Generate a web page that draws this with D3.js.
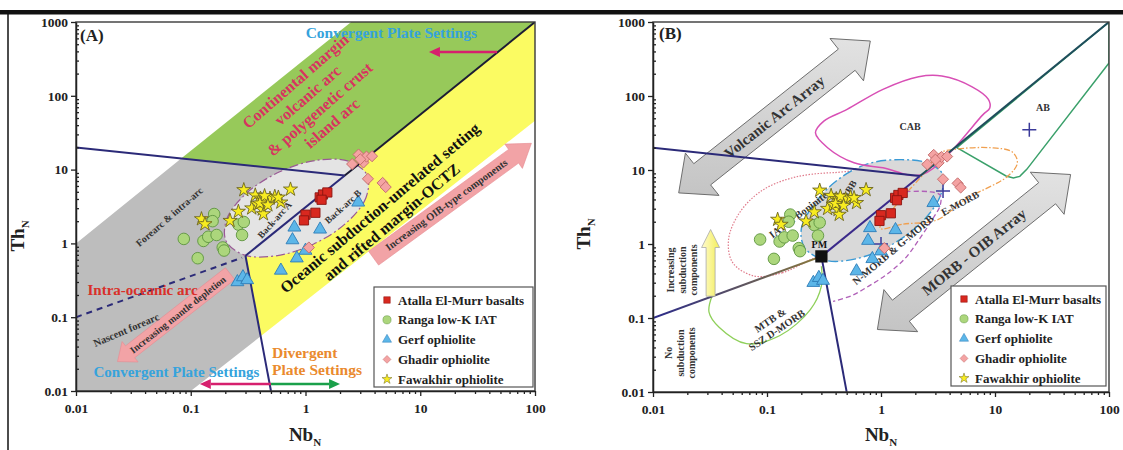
<!DOCTYPE html>
<html><head><meta charset="utf-8">
<script src="https://cdn.jsdelivr.net/npm/d3@7"></script>
<style>
body{margin:0;background:#fff}
svg{display:block}
text{font-family:"Liberation Serif","Times New Roman",serif;font-weight:bold}
</style>
</head><body>
<svg id="chart" width="1123" height="450"></svg>
<script>
// ---------- axis ticks ----------
const xTicks = [0.01, 0.1, 1, 10, 100];
const xTickLabels = ["0.01", "0.1", "1", "10", "100"];
const yTicks = [0.01, 0.1, 1, 10, 100, 1000];
const yTickLabels = ["0.01", "0.1", "1", "10", "100", "1000"];

// ---------- sample groups (Nb_N, Th_N) ----------
const seriesNames = ["Atalla El-Murr basalts", "Ranga low-K IAT", "Gerf ophiolite", "Ghadir ophiolite", "Fawakhir ophiolite"];
const atalla = [[1.33,4.2],[1.42,4.6],[1.55,4.9],[1.38,3.9],[1.22,2.6],[1.0,2.45],[0.97,2.05]];
const ranga = [[0.087,1.15],[0.115,0.63],[0.129,1.08],[0.142,1.23],[0.168,1.3],[0.16,2.5],[0.155,2.0],
               [0.19,0.88],[0.195,0.8],[0.26,1.8],[0.29,1.95],[0.28,1.3]];
const gerf = [[0.80,1.65],[0.77,1.11],[0.84,0.63],[0.61,0.43],[1.34,1.55],[2.88,3.6],[1.0,0.8],
              [0.255,0.3],[0.285,0.35],[0.31,0.32]];
const ghadir = [[2.55,11.9],[2.9,16],[3.2,12.5],[3.4,15],[3.8,15.2],[3.0,13.8],[3.5,7.5],[4.7,6.6],[5.0,5.8],[1.07,0.88]];
const fawakhir = [[0.124,2.14],[0.133,1.83],[0.22,2.03],[0.26,2.7],[0.29,5.3],[0.365,4.5],[0.405,4.07],
                  [0.445,3.8],[0.49,4.07],[0.54,4.3],[0.74,5.4],[0.34,3.0],[0.38,3.4],[0.42,2.9],
                  [0.43,2.5],[0.61,3.6],[0.58,4.2],[0.44,4.4],[0.40,3.5],[0.47,3.3]];

// ---------- discrimination boundaries (Nb_N, Th_N) ----------
const pm = [0.3, 0.68];
const mainArray = [[0.3,0.68],[2.2,8.3],[100,1000]];
const arcDivide = [[0.01,20],[2.2,8.3]];
const convergentDivide = [[0.3,0.68],[0.5,0.01]];
const nascentForearc = [[0.01,0.1],[0.28,0.64]];
const subductionLine = [[0.01,0.1],[0.3,0.68]];
const forearcField = [[0.01,0.01],[0.01,1],[0.083,14.2],[2.2,8.3],[0.3,0.68],[0.406,0.055],[0.1,0.01]];
const continentalField = [[0.083,14.2],[2.5,1000],[100,1000],[2.2,8.3]];
const octzField = [[0.3,0.68],[100,1000],[100,46],[0.406,0.055]];
const backArcField = [[3.44,8.45],[3.37,4.19],[2.27,1.90],[1.17,0.975],[0.552,0.678],[0.29,0.70],
                      [0.203,1.08],[0.207,2.17],[0.307,4.81],[0.596,9.33],[1.26,13.4],[2.40,12.9]];
const babbField = [[3.5,8.6],[3.3,4.4],[2.3,2.0],[1.2,0.95],[0.6,0.63],[0.33,0.6],[0.215,0.88],
                   [0.2,1.6],[0.25,3.2],[0.4,7.0],[0.75,12.0],[1.5,13.8],[2.6,12.3]];
const cabField = [[0.266,31.8],[0.315,45.8],[0.504,65.9],[1.04,123],[2.14,182],[3.42,186],[6.3,133],
                  [8.75,90],[9.0,69],[7.85,56],[2.3,8.7],[1.04,10.7],[0.58,12.5],[0.34,20]];
const abField = [[100,1000],[100,280],[19,10.2],[16.5,8.2],[14.5,7.8],[12.5,8.3],[4.63,20]];
const emorbField = [[0.98,1.63],[1.57,1.86],[3.07,2.1],[5.47,4.0],[13,8.3],[15.7,12.5],[14.2,17.5],
                    [9.1,20],[4.4,19],[3.3,17],[2.33,8.6],[1.47,3.9]];
const nmorbField = [[1.65,5.1],[2.6,5.1],[3.3,4.6],[3.3,3.3],[2.9,2.3],[2.2,1.2],[1.6,0.62],
                    [1.1,0.38],[0.78,0.27],[0.55,0.2],[0.38,0.168]];
const iatField = [[0.244,0.62],[0.137,0.41],[0.077,0.37],[0.05,0.56],[0.046,1.15],[0.057,2.6],
                  [0.089,5.2],[0.17,7.9],[0.377,9.2],[0.84,8.7],[0.9,3.0],[0.5,1.0]];
const mtbField = [[0.033,0.2],[0.031,0.12],[0.038,0.075],[0.066,0.045],[0.13,0.058],[0.24,0.13],
                  [0.3,0.27],[0.3,0.5]];
const referenceCrosses = [[20,35],[3.5,5.2],[1.0,1.0]];

// ---------- canvas ----------
const svg = d3.select("#chart");
const defs = svg.append("defs");
svg.append("rect").attr("x",0).attr("y",10).attr("width",1123).attr("height",4.5).attr("fill","#111");
svg.append("line").attr("x1",8).attr("x2",8).attr("y1",12).attr("y2",450).attr("stroke","#111").attr("stroke-width",1.5);

const minorX = [], minorY = [];
for (let e = -2; e < 2; e++) for (let m = 2; m < 10; m++) minorX.push(+(m * Math.pow(10, e)).toPrecision(3));
for (let e = -2; e < 3; e++) for (let m = 2; m < 10; m++) minorY.push(+(m * Math.pow(10, e)).toPrecision(3));

const markerStyles = [
  {sym:d3.symbolSquare,   size:85, fill:"#d8281f", stroke:"#8a1410", rot:0},
  {sym:d3.symbolCircle,   size:105, fill:"#acd67c", stroke:"#5e9440", rot:0},
  {sym:d3.symbolTriangle, size:72, fill:"#5cb6e8", stroke:"#2e7db8", rot:0},
  {sym:d3.symbolSquare,   size:62, fill:"#f4a3a3", stroke:"#c46d6d", rot:45},
  {sym:d3.symbolStar,     size:62, fill:"#f8ec20", stroke:"#6d6620", rot:0}
];
const groups = [atalla, ranga, gerf, ghadir, fawakhir];
const drawOrder = [1, 2, 3, 0, 4];

function lineOf(x, y, curve) {
  return d3.line().x(d => x(d[0])).y(d => y(d[1])).curve(curve || d3.curveLinear);
}

function txt(g, x, y, s, o) {
  o = o || {};
  const t = g.append("text").attr("x", x).attr("y", y)
    .attr("text-anchor", o.anchor || "middle").attr("dominant-baseline", "central")
    .attr("font-size", o.size || 12).attr("fill", o.color || "#222").text(s);
  if (o.rot) t.attr("transform", `rotate(${o.rot},${x},${y})`);
  return t;
}

function block(g, cx, cy, lines, rot, size, lh, color) {
  const r = rot * Math.PI / 180, dx = -Math.sin(r), dy = Math.cos(r);
  lines.forEach((s, i) => {
    const off = (i - (lines.length - 1) / 2) * lh;
    txt(g, cx + dx * off, cy + dy * off, s, {rot, size, color});
  });
}

// solid block arrow between two screen points; "both" gives a head at each end
function blockArrow(p0, p1, sw, hw, hl, both) {
  const dx = p1[0] - p0[0], dy = p1[1] - p0[1], L = Math.hypot(dx, dy);
  const ux = dx / L, uy = dy / L, nx = -uy, ny = ux;
  const pt = (s, t) => [p0[0] + ux * s + nx * t, p0[1] + uy * s + ny * t];
  const pts = both
    ? [pt(0,0),pt(hl,hw),pt(hl,sw),pt(L-hl,sw),pt(L-hl,hw),pt(L,0),pt(L-hl,-hw),pt(L-hl,-sw),pt(hl,-sw),pt(hl,-hw)]
    : [pt(0,sw),pt(L-hl,sw),pt(L-hl,hw),pt(L,0),pt(L-hl,-hw),pt(L-hl,-sw),pt(0,-sw)];
  return "M" + pts.map(p => p[0].toFixed(1) + "," + p[1].toFixed(1)).join("L") + "Z";
}

function angleOf(p0, p1) {
  let a = Math.atan2(p1[1] - p0[1], p1[0] - p0[0]) * 180 / Math.PI;
  if (a > 90) a -= 180;
  if (a < -90) a += 180;
  return a;
}

// thin arrow with a filled head
function lineArrow(g, p0, p1, color, w) {
  const dx = p1[0] - p0[0], dy = p1[1] - p0[1], L = Math.hypot(dx, dy);
  const ux = dx / L, uy = dy / L, hl = 11, hw = 5;
  g.append("line").attr("x1", p0[0]).attr("y1", p0[1]).attr("x2", p1[0] - ux * hl).attr("y2", p1[1] - uy * hl)
    .attr("stroke", color).attr("stroke-width", w);
  g.append("path").attr("d", `M${p1[0]},${p1[1]}L${p1[0]-ux*hl-uy*hw},${p1[1]-uy*hl+ux*hw}L${p1[0]-ux*hl+uy*hw},${p1[1]-uy*hl-ux*hw}Z`)
    .attr("fill", color);
}

function axes(g, x, y) {
  const [l, r] = x.range(), [b, t] = y.range();
  g.append("rect").attr("x", l).attr("y", t).attr("width", r - l).attr("height", b - t)
    .attr("fill", "none").attr("stroke", "#3a3a3a").attr("stroke-width", 1.4);
  const style = sel => {
    sel.attr("font-family", null).attr("font-size", null);
    sel.selectAll("text").attr("font-size", 13.5).attr("fill", "#222");
    sel.selectAll("path.domain").attr("stroke", "#222").attr("stroke-width", 1.5);
    sel.selectAll("line").attr("stroke", "#222").attr("stroke-width", 1.3);
  };
  g.append("g").attr("transform", `translate(0,${b})`)
    .call(d3.axisBottom(x).tickValues(minorX).tickSize(3).tickFormat(""))
    .call(s => s.select(".domain").remove()).call(style);
  g.append("g").attr("transform", `translate(${l},0)`)
    .call(d3.axisRight(y).tickValues(minorY).tickSize(3).tickFormat(""))
    .call(s => s.select(".domain").remove()).call(style);
  g.append("g").attr("transform", `translate(0,${b})`)
    .call(d3.axisBottom(x).tickValues(xTicks).tickFormat((d, i) => xTickLabels[i]).tickSize(5).tickSizeOuter(0).tickPadding(7))
    .call(style);
  g.append("g").attr("transform", `translate(${l},0)`)
    .call(d3.axisLeft(y).tickValues(yTicks).tickFormat((d, i) => yTickLabels[i]).tickSize(5).tickSizeOuter(0).tickPadding(3))
    .call(style);
}

function axisTitle(g, x, y, main, sub, rot) {
  const t = g.append("text").attr("x", x).attr("y", y).attr("text-anchor", "middle").attr("font-size", 19).attr("fill", "#222");
  if (rot) t.attr("transform", `rotate(${rot},${x},${y})`);
  t.append("tspan").text(main);
  t.append("tspan").attr("font-size", 11).attr("dy", 5).text(sub);
}

function points(g, x, y) {
  drawOrder.forEach(k => {
    const st = markerStyles[k];
    g.selectAll(null).data(groups[k]).enter().append("path")
      .attr("d", d3.symbol().type(st.sym).size(st.size))
      .attr("transform", d => `translate(${x(d[0])},${y(d[1])}) rotate(${st.rot})`)
      .attr("fill", st.fill).attr("stroke", st.stroke).attr("stroke-width", 0.9);
  });
}

function legend(g, x0, y0, w, h) {
  g.append("rect").attr("x", x0).attr("y", y0).attr("width", w).attr("height", h)
    .attr("fill", "#fff").attr("stroke", "#555").attr("stroke-width", 1.2);
  seriesNames.forEach((name, i) => {
    const st = markerStyles[i], cy = y0 + 13 + i * 19.8;
    g.append("path").attr("d", d3.symbol().type(st.sym).size(st.size * 0.5))
      .attr("transform", `translate(${x0 + 13},${cy}) rotate(${st.rot})`)
      .attr("fill", st.fill).attr("stroke", st.stroke).attr("stroke-width", 0.5);
    txt(g, x0 + 24, cy, name, {anchor: "start", size: 13, color: "#222"});
  });
}

// =================== Panel A ===================
const xA = d3.scaleLog().domain([0.01, 100]).range([76, 535]);
const yA = d3.scaleLog().domain([0.01, 1000]).range([391, 22]);
const gA = svg.append("g");
const lA = lineOf(xA, yA);
defs.append("clipPath").attr("id", "clipA").append("rect").attr("x", 76).attr("y", 22).attr("width", 459).attr("height", 369);
const pA = gA.append("g").attr("clip-path", "url(#clipA)");

pA.append("path").attr("d", lA(forearcField) + "Z").attr("fill", "#bdbdbd");
pA.append("path").attr("d", lA(continentalField) + "Z").attr("fill", "#97c95a");
pA.append("path").attr("d", lA(octzField) + "Z").attr("fill", "#fbfb62");
pA.append("path").attr("d", lineOf(xA, yA, d3.curveCatmullRomClosed)(backArcField))
  .attr("fill", "#e4e4e4").attr("stroke", "#9a5a96").attr("stroke-width", 1.2).attr("stroke-dasharray", "9,3,2,3");

pA.append("path").attr("d", lA(arcDivide)).attr("stroke", "#2b2a78").attr("stroke-width", 2).attr("fill", "none");
pA.append("path").attr("d", lA(mainArray.slice(0, 2))).attr("stroke", "#2b2a78").attr("stroke-width", 2).attr("fill", "none");
pA.append("path").attr("d", lA(mainArray.slice(1))).attr("stroke", "#1c1c34").attr("stroke-width", 2).attr("fill", "none");
pA.append("path").attr("d", lA(convergentDivide)).attr("stroke", "#2b2a78").attr("stroke-width", 2).attr("fill", "none");
pA.append("path").attr("d", lA(nascentForearc)).attr("stroke", "#2b2a78").attr("stroke-width", 2).attr("fill", "none").attr("stroke-dasharray", "6,5");

// pink trend arrows
{
  const p0 = [xA(0.22), yA(0.39)], p1 = [xA(0.023), yA(0.025)];
  pA.append("path").attr("d", blockArrow(p0, p1, 7.5, 13, 16, false)).attr("fill", "#f2a3a6").attr("stroke", "#e58a90").attr("stroke-width", 0.6);
  txt(pA, (p0[0] + p1[0]) / 2 + 4, (p0[1] + p1[1]) / 2 - 3, "Increasing mantle depletion", {rot: angleOf(p0, p1), size: 10, color: "#333"});
  const q0 = [xA(3.92), yA(0.63)], q1 = [xA(93), yA(22.7)];
  pA.append("path").attr("d", blockArrow(q0, q1, 8.5, 15, 22, false)).attr("fill", "#f2a3a6").attr("stroke", "#e58a90").attr("stroke-width", 0.6);
  txt(pA, (q0[0] + q1[0]) / 2 - 6, (q0[1] + q1[1]) / 2 + 4, "Increasing OIB-type components", {rot: angleOf(q0, q1), size: 10.5, color: "#333"});
}

// region labels
txt(gA, xA(5.6), yA(710), "Convergent Plate Settings", {size: 15.5, color: "#36a3dc"});
lineArrow(gA, [xA(46.7), yA(392)], [xA(11.9), yA(392)], "#d6206e", 2.5);
block(gA, xA(1.18), yA(82), ["Continental margin", "volcanic arc", "& polygenetic crust", "island arc"], -41, 16, 18.5, "#d7345f");
block(gA, xA(5.0), yA(2.43), ["Oceanic subduction-unrelated setting", "and rifted margin-OCTZ"], -40, 16, 18.5, "#111");
txt(gA, xA(0.038), yA(0.234), "Intra-oceanic arc", {size: 15, color: "#d9302a"});
txt(gA, xA(0.065), yA(2.3), "Forearc & intra-arc", {size: 10, rot: -41, color: "#333"});
txt(gA, xA(0.54), yA(2.07), "Back-arc A", {size: 9.5, rot: -48, color: "#333"});
txt(gA, xA(2.13), yA(3.14), "Back-arc B", {size: 9.5, rot: -42, color: "#333"});
txt(gA, xA(0.0274), yA(0.067), "Nascent forearc", {size: 10.5, rot: -23, color: "#333"});
txt(gA, xA(0.075), yA(0.0183), "Convergent Plate Settings", {size: 15, color: "#36a3dc"});
txt(gA, xA(0.51), yA(0.033), "Divergent", {size: 15.5, anchor: "start", color: "#ea8a2e"});
txt(gA, xA(0.51), yA(0.0193), "Plate Settings", {size: 15.5, anchor: "start", color: "#ea8a2e"});
lineArrow(gA, [xA(0.5), yA(0.0124)], [xA(0.12), yA(0.0124)], "#d6206e", 2.5);
lineArrow(gA, [xA(0.5), yA(0.0124)], [xA(2.0), yA(0.0124)], "#1aa04a", 2.5);

points(pA, xA, yA);
legend(gA, 374, 287, 159, 100);
axes(gA, xA, yA);
txt(gA, 80, 35, "(A)", {size: 17, anchor: "start", color: "#222"});
axisTitle(gA, 24, 236, "Th", "N", -90);
axisTitle(gA, 305, 441, "Nb", "N", 0);

// =================== Panel B ===================
const xB = d3.scaleLog().domain([0.01, 100]).range([653, 1109]);
const yB = d3.scaleLog().domain([0.01, 1000]).range([392, 22]);
const gB = svg.append("g");
const lB = lineOf(xB, yB);
defs.append("clipPath").attr("id", "clipB").append("rect").attr("x", 653).attr("y", 22).attr("width", 456).attr("height", 370);
const pB = gB.append("g").attr("clip-path", "url(#clipB)");

// array arrows
{
  const ag = defs.append("linearGradient").attr("id", "greyGrad").attr("x1", 0).attr("x2", 0).attr("y1", 0).attr("y2", 1);
  ag.append("stop").attr("offset", "0%").attr("stop-color", "#e2e2e2");
  ag.append("stop").attr("offset", "100%").attr("stop-color", "#c4c4c4");
  const a0 = [xB(0.0168), yB(4.9)], a1 = [xB(0.805), yB(553)];
  pB.append("path").attr("d", blockArrow(a0, a1, 13.5, 27, 30, true)).attr("fill", "url(#greyGrad)").attr("stroke", "#6e6e6e").attr("stroke-width", 1);
  txt(pB, (a0[0] + a1[0]) / 2, (a0[1] + a1[1]) / 2, "Volcanic Arc Array", {rot: angleOf(a0, a1), size: 15, color: "#333"});
  const b0 = [xB(0.93), yB(0.07)], b1 = [xB(46), yB(8.7)];
  pB.append("path").attr("d", blockArrow(b0, b1, 13.5, 27, 30, true)).attr("fill", "url(#greyGrad)").attr("stroke", "#6e6e6e").attr("stroke-width", 1);
  txt(pB, (b0[0] + b1[0]) / 2, (b0[1] + b1[1]) / 2, "MORB - OIB Array", {rot: angleOf(b0, b1), size: 15, color: "#333"});
}

pB.append("path").attr("d", lineOf(xB, yB, d3.curveCatmullRomClosed)(iatField))
  .attr("fill", "none").attr("stroke", "#e07c8c").attr("stroke-width", 1.2).attr("stroke-dasharray", "1.5,1.5");
pB.append("path").attr("d", lineOf(xB, yB, d3.curveCatmullRom)(mtbField))
  .attr("fill", "none").attr("stroke", "#8fd05a").attr("stroke-width", 1.3);
pB.append("path").attr("d", lineOf(xB, yB, d3.curveCatmullRomClosed)(babbField))
  .attr("fill", "#d9d9d9").attr("stroke", "#3a9ad5").attr("stroke-width", 1.4).attr("stroke-dasharray", "10,3,2,3");
pB.append("path").attr("d", lineOf(xB, yB, d3.curveCatmullRomClosed)(cabField))
  .attr("fill", "none").attr("stroke", "#d84fb5").attr("stroke-width", 1.5);
pB.append("path").attr("d", lB(abField) + "Z")
  .attr("fill", "none").attr("stroke", "#3aa06a").attr("stroke-width", 1.5);
pB.append("path").attr("d", lineOf(xB, yB, d3.curveCatmullRomClosed)(emorbField))
  .attr("fill", "none").attr("stroke", "#f0a050").attr("stroke-width", 1.3).attr("stroke-dasharray", "6,2,1.5,2");
pB.append("path").attr("d", lineOf(xB, yB, d3.curveCatmullRom)(nmorbField))
  .attr("fill", "none").attr("stroke", "#b060b8").attr("stroke-width", 1.3).attr("stroke-dasharray", "5,3");

// boundary lines
const grad = defs.append("linearGradient").attr("id", "subGrad").attr("gradientUnits", "userSpaceOnUse")
  .attr("x1", xB(subductionLine[0][0])).attr("y1", yB(subductionLine[0][1]))
  .attr("x2", xB(subductionLine[1][0])).attr("y2", yB(subductionLine[1][1]));
grad.append("stop").attr("offset", "0%").attr("stop-color", "#2b2a8a");
grad.append("stop").attr("offset", "100%").attr("stop-color", "#8a7a3a");
pB.append("path").attr("d", lB(subductionLine)).attr("stroke", "url(#subGrad)").attr("stroke-width", 2).attr("fill", "none");
pB.append("path").attr("d", lB(arcDivide)).attr("stroke", "#2b2a78").attr("stroke-width", 2).attr("fill", "none");
pB.append("path").attr("d", lB(mainArray.slice(0, 2))).attr("stroke", "#3b2a8a").attr("stroke-width", 2).attr("fill", "none");
pB.append("path").attr("d", lB(mainArray.slice(1))).attr("stroke", "#1f4d5c").attr("stroke-width", 2).attr("fill", "none");
pB.append("path").attr("d", lB(convergentDivide)).attr("stroke", "#2b2a78").attr("stroke-width", 2).attr("fill", "none");

// subduction arrow
{
  const y0 = [xB(0.032), yB(0.197)], y1 = [xB(0.032), yB(1.57)];
  const yg = defs.append("linearGradient").attr("id", "yelGrad").attr("x1", 0).attr("x2", 1).attr("y1", 0).attr("y2", 0);
  yg.append("stop").attr("offset", "0%").attr("stop-color", "#fffbd0");
  yg.append("stop").attr("offset", "100%").attr("stop-color", "#f3ee58");
  pB.append("path").attr("d", blockArrow(y0, y1, 4.5, 9, 18, false)).attr("fill", "url(#yelGrad)").attr("stroke", "#aaa").attr("stroke-width", 0.8);
}

pB.selectAll(null).data(referenceCrosses).enter().append("path")
  .attr("d", d => { const cx = xB(d[0]), cy = yB(d[1]); return `M${cx-7},${cy}H${cx+7}M${cx},${cy-7}V${cy+7}`; })
  .attr("stroke", "#3b3a9a").attr("stroke-width", 1.5).attr("fill", "none");

pB.append("path").attr("d", d3.symbol().type(d3.symbolSquare).size(150))
  .attr("transform", `translate(${xB(pm[0])},${yB(pm[1])})`).attr("fill", "#111");
txt(pB, xB(pm[0]) - 2, yB(pm[1]) - 12, "PM", {size: 10, color: "#111"});

txt(pB, xB(1.8), yB(39), "CAB", {size: 10, color: "#333"});
txt(pB, xB(26.4), yB(69), "AB", {size: 10, color: "#333"});
txt(pB, xB(0.51), yB(5.0), "BABB", {size: 9.5, rot: -58, color: "#333"});
txt(pB, xB(0.188), yB(2.47), "IAT & Boninite", {size: 10.5, rot: -37, color: "#333"});
txt(pB, xB(4.93), yB(3.55), "E-MORB", {size: 10, rot: -28, color: "#333"});
txt(pB, xB(1.28), yB(0.83), "N-MORB & G-MORB", {size: 10.5, rot: -40, color: "#333"});
block(pB, xB(0.114), yB(0.08), ["MTB &", "SSZ D-MORB"], -34, 10.5, 12, "#333");
block(pB, xB(0.018), yB(0.446), ["Increasing", "subduction", "components"], -90, 10, 11.5, "#333");
block(pB, xB(0.0173), yB(0.0337), ["No", "subduction", "components"], -90, 10, 11.5, "#333");

points(pB, xB, yB);
legend(gB, 951, 286, 155, 100);
axes(gB, xB, yB);
txt(gB, 659, 33, "(B)", {size: 17, anchor: "start", color: "#222"});
axisTitle(gB, 590, 234, "Th", "N", -90);
axisTitle(gB, 881, 441, "Nb", "N", 0);
</script>
</body></html>
